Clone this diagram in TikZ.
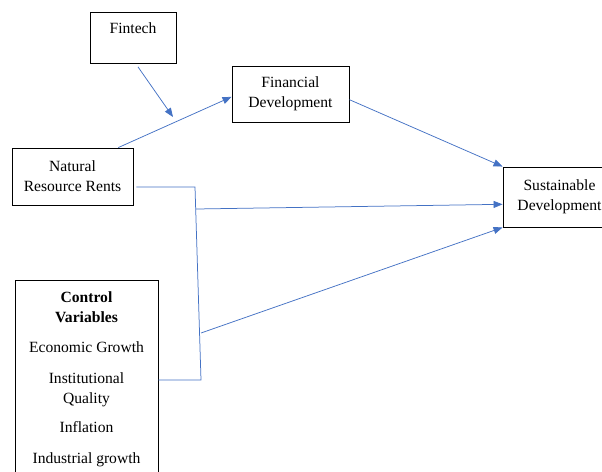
\documentclass[tikz,border=0pt]{standalone}
\usepackage{fontspec}
\setmainfont{Liberation Serif}
\newfontfamily\tnr{Liberation Serif}
\usetikzlibrary{arrows.meta,calc}
\definecolor{linkblue}{HTML}{4472C4}
\begin{document}
\begin{tikzpicture}[x=1pt,y=-1pt,
  box/.style={draw=black,line width=0.9pt,inner sep=0pt,align=center,
    font=\tnr\fontsize{15.6}{20}\selectfont},
  conn/.style={draw=linkblue,line width=0.75pt},
  arr/.style={conn,-{Triangle[length=9pt,width=7pt]}}]
\useasboundingbox (0,0) rectangle (602,471);
% boxes
\node[box,anchor=north,minimum width=86pt,text height=21pt,text depth=30pt] (fin) at (133,12) {Fintech};
\node[box,minimum width=117pt,minimum height=56pt] (fd) at (290.5,94) {Financial\\Development};
\node[box,minimum width=121pt,minimum height=57pt] (nrr) at (72.5,176.5) {Natural\\Resource Rents};
\node[box,minimum width=113pt,minimum height=60pt] (sd) at (559.5,197) {Sustainable\\Development};
\node[box,anchor=north,minimum width=143pt,inner ysep=11pt] (ctrl) at (86.5,280)
  {\textbf{Control}\\\textbf{Variables}\\[10pt]Economic Growth\\[11pt]Institutional\\Quality\\[9pt]Inflation\\[11pt]Industrial growth\\[6pt]};
% bracket points
\coordinate (b1) at (195,187);
\coordinate (b2) at (201,380);
\coordinate (j1) at (196,209);
\coordinate (j2) at (201,333);
\coordinate (fend) at (173,117);
% connectors
\draw[arr] ($(fin.south)+(5,3)$) -- (fend);
\draw[arr] ($(nrr.north west)!0.876!(nrr.north east)$) -- ($(fd.south west)!0.45!(fd.north west)$);
\draw[arr] ($(fd.south east)!0.4!(fd.north east)$) -- (sd.north west);
\draw[conn] ($(nrr.east |- b1)+(3,0)$) -- (b1) -- (b2) -- (ctrl.east |- b2);
\draw[arr] (j1) -- ($(sd.south west)!0.38!(sd.north west)$);
\draw[arr] (j2) -- (sd.south west);
\end{tikzpicture}
\end{document}
